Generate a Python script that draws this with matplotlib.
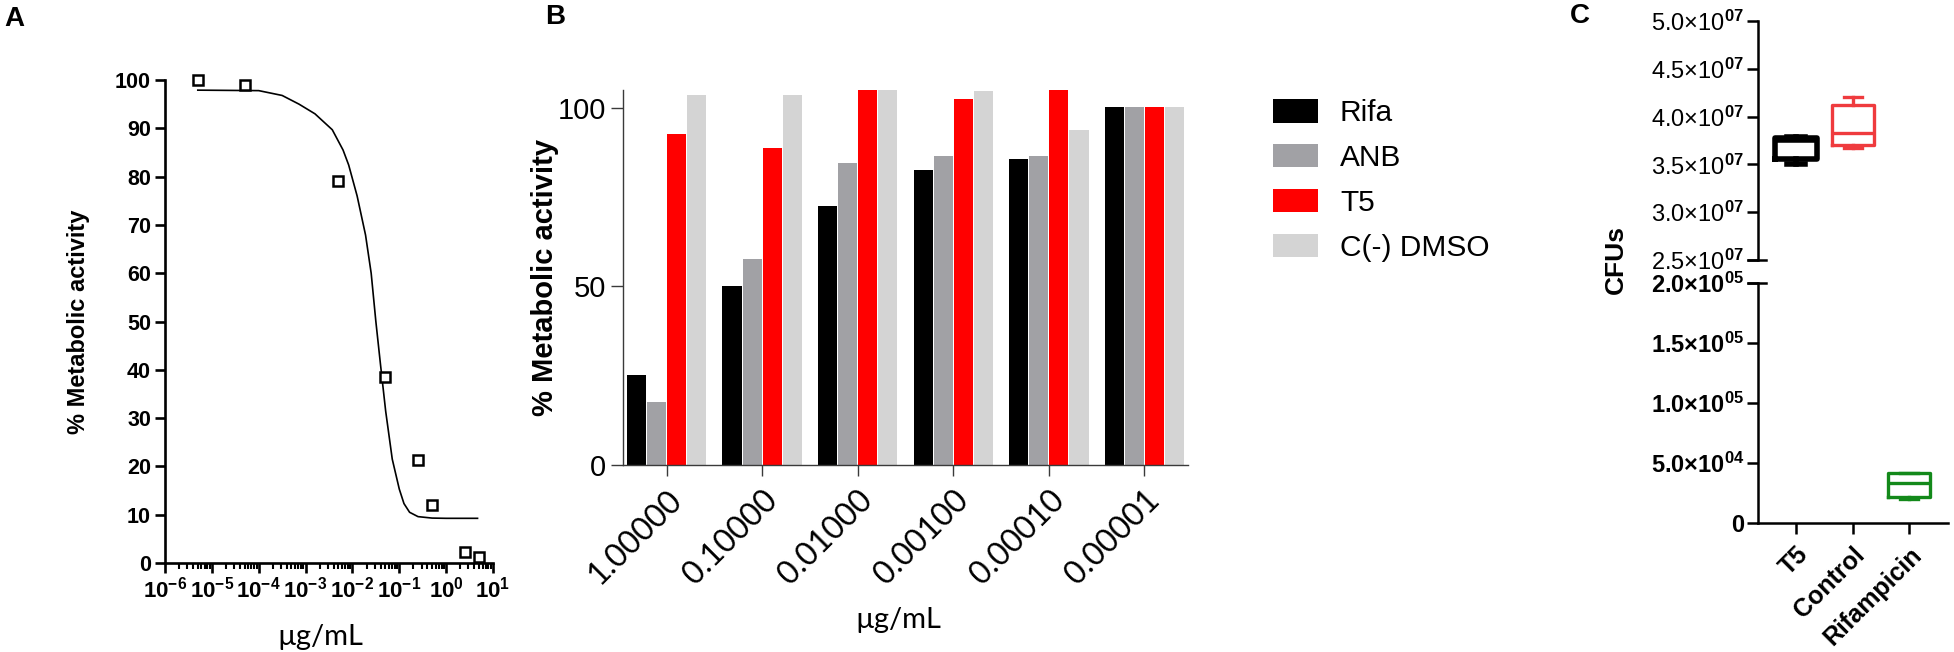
import matplotlib
import matplotlib.pyplot as plt
import numpy as np
from matplotlib.patches import Patch
from matplotlib.ticker import FixedLocator, LogLocator, NullFormatter

plt.switch_backend("agg")
plt.rcParams["font.family"] = ["Liberation Sans", "DejaVu Sans"]
plt.rcParams["mathtext.fontset"] = "custom"
plt.rcParams["mathtext.rm"] = "Liberation Sans"
plt.rcParams["mathtext.bf"] = "Liberation Sans:bold"
plt.rcParams["mathtext.it"] = "Liberation Sans:italic"
plt.rcParams["mathtext.default"] = "bf"

W, H = 1954, 652

# ---- panel A: dose response of T5 ----
A_CONC = [5e-6, 5e-5, 5e-3, 5e-2, 0.25, 0.5, 2.5, 5.0]
A_ACTIVITY = [100.0, 99.0, 79.0, 38.5, 21.3, 12.0, 2.3, 1.3]
# fitted curve (log10 of concentration, % activity)
A_FIT_LOGX = [-5.3, -4.0, -3.5, -3.14, -2.8, -2.43, -2.2, -2.08, -1.9, -1.72,
              -1.6, -1.5, -1.4, -1.29, -1.15, -1.0, -0.9, -0.78, -0.6, -0.3,
              0.0, 0.67]
A_FIT_Y = [97.9, 97.8, 96.8, 95.0, 93.0, 89.7, 85.5, 82.4, 76.0, 67.9,
           60.0, 50.0, 41.0, 31.4, 21.5, 15.3, 12.3, 10.5, 9.6, 9.3,
           9.25, 9.25]
A_XTICK_EXP = [-6, -5, -4, -3, -2, -1, 0, 1]
A_YTICKS = [0, 10, 20, 30, 40, 50, 60, 70, 80, 90, 100]

# ---- panel B: metabolic activity per dose ----
B_DOSES = ["1.00000", "0.10000", "0.01000", "0.00100", "0.00010", "0.00001"]
B_SERIES = ["Rifa", "ANB", "T5", "C(-) DMSO"]
B_RIFA = [25.3, 50.0, 72.5, 82.6, 85.7, 100.3]
B_ANB = [17.6, 57.7, 84.7, 86.6, 86.6, 100.3]
B_T5 = [92.6, 88.7, 105.0, 102.5, 105.0, 100.3]
B_DMSO = [103.6, 103.6, 105.0, 104.7, 93.7, 100.3]
B_COLORS = ["#000000", "#a1a1a5", "#ff0000", "#d4d4d4"]

# ---- panel C: CFU box plots ----
C_GROUPS = ["T5", "Control", "Rifampicin"]
C_MIN = [3.50e7, 3.67e7, 2.03e4]
C_Q1 = [3.553e7, 3.70e7, 2.17e4]
C_MED = [3.75e7, 3.825e7, 3.33e4]
C_Q3 = [3.775e7, 4.12e7, 4.17e4]
C_MAX = [3.79e7, 4.20e7, 4.20e4]
C_COLORS = ["#000000", "#ef3b3e", "#13891a"]
C_TOP_TICKS = [2.5e7, 3.0e7, 3.5e7, 4.0e7, 4.5e7, 5.0e7]
C_TOP_LABELS = ["2.5×10$^{07}$", "3.0×10$^{07}$", "3.5×10$^{07}$",
                "4.0×10$^{07}$", "4.5×10$^{07}$", "5.0×10$^{07}$"]
C_BOT_TICKS = [0, 5.0e4, 1.0e5, 1.5e5, 2.0e5]
C_BOT_LABELS = ["0", "5.0×10$^{04}$", "1.0×10$^{05}$", "1.5×10$^{05}$",
                "2.0×10$^{05}$"]


def rect(left, top, right, bottom):
    return [left / W, 1 - bottom / H, (right - left) / W, (bottom - top) / H]


def fpos(x, y):
    return x / W, 1 - y / H


fig = plt.figure(figsize=(W / 100, H / 100), dpi=100)

# ================= A =================
axA = fig.add_axes(rect(165, 80, 493, 563))
axA.set_xscale("log")
fit_x = [10 ** v for v in A_FIT_LOGX]
axA.plot(fit_x, A_FIT_Y, color="black", lw=1.2, clip_on=False)
axA.plot(A_CONC, A_ACTIVITY, ls="none", marker="s", ms=6.5, mew=1.8,
         mfc="white", mec="black", clip_on=False, zorder=3)
axA.set_xlim(1e-6, 10)
axA.set_ylim(0, 100)
axA.xaxis.set_major_locator(FixedLocator([10.0 ** e for e in A_XTICK_EXP]))
axA.set_xticklabels([r"$10^{%d}$" % e for e in A_XTICK_EXP])
axA.xaxis.set_minor_locator(LogLocator(base=10, subs=np.arange(2, 10), numticks=20))
axA.xaxis.set_minor_formatter(NullFormatter())
axA.set_yticks(A_YTICKS)
axA.set_yticklabels([str(v) for v in A_YTICKS], fontweight="bold")
for s in ["top", "right"]:
    axA.spines[s].set_visible(False)
for s in ["left", "bottom"]:
    axA.spines[s].set_linewidth(1.9)
axA.tick_params(axis="both", which="major", length=7, width=1.9, pad=3)
axA.tick_params(axis="y", labelsize=15.5)
axA.tick_params(axis="x", labelsize=16)
axA.tick_params(axis="x", which="minor", length=4, width=1.5)

fig.text(*fpos(79, 322), "% Metabolic activity", rotation=90, fontsize=17,
         fontweight="bold", ha="center", va="center")
fig.text(*fpos(320, 637), "µg/mL", fontsize=21, family=["Lato", "DejaVu Sans"],
         ha="center", va="center")

# ================= B =================
axB = fig.add_axes(rect(623, 90, 1188, 465))
xpos = np.arange(len(B_DOSES))
offsets = [-0.316, -0.105, 0.105, 0.316]
for vals, off, col, lab in zip([B_RIFA, B_ANB, B_T5, B_DMSO], offsets,
                               B_COLORS, B_SERIES):
    axB.bar(xpos + off, vals, width=0.2, color=col, label=lab)
axB.set_xlim(-0.456, len(B_DOSES) - 1 + 0.456)
axB.set_ylim(0, 105)
axB.set_yticks([0, 50, 100])
axB.set_xticks(xpos)
axB.set_xticklabels(B_DOSES, rotation=45, ha="right", rotation_mode="anchor",
                    family=["Lato", "DejaVu Sans"], fontsize=23)
for s in ["top", "right"]:
    axB.spines[s].set_visible(False)
for s in ["left", "bottom"]:
    axB.spines[s].set_linewidth(1.0)
    axB.spines[s].set_color("#3a3a3a")
axB.tick_params(axis="y", length=9, width=1.0, color="#3a3a3a", labelsize=21, pad=3)
axB.tick_params(axis="x", length=8, width=1.0, color="#3a3a3a", pad=6)

fig.text(*fpos(545, 277), "% Metabolic activity", rotation=90, fontsize=21,
         fontweight="bold", ha="center", va="center")
fig.text(*fpos(898, 620), "µg/mL", fontsize=21, family=["Lato", "DejaVu Sans"],
         ha="center", va="center")

handles = [Patch(facecolor=c, edgecolor="none") for c in B_COLORS]
fig.legend(handles, B_SERIES, loc="upper left", bbox_to_anchor=fpos(1273, 99),
           frameon=False, fontsize=21.5, handlelength=1.52, handleheight=0.84,
           handletextpad=0.72, labelspacing=0.56, borderpad=0,
           borderaxespad=0)

# ================= C =================
axCt = fig.add_axes(rect(1758, 21, 1948, 260))
axCb = fig.add_axes(rect(1758, 283, 1948, 523))
cpos = np.arange(len(C_GROUPS))
for ax in (axCt, axCb):
    for i in range(len(C_GROUPS)):
        col = C_COLORS[i]
        lw = 4.0 if i == 0 else 2.4
        stats = [dict(med=C_MED[i], q1=C_Q1[i], q3=C_Q3[i],
                      whislo=C_MIN[i], whishi=C_MAX[i], label=C_GROUPS[i])]
        ax.bxp(stats, positions=[cpos[i]], widths=0.74, capwidths=0.32,
               showfliers=False, manage_ticks=False,
               boxprops=dict(color=col, lw=lw),
               medianprops=dict(color=col, lw=lw),
               whiskerprops=dict(color=col, lw=lw),
               capprops=dict(color=col, lw=lw))
    ax.set_xlim(-0.667, 2.68)
    for s in ["top", "right"]:
        ax.spines[s].set_visible(False)
    for s in ["left", "bottom"]:
        ax.spines[s].set_linewidth(1.8)
    ax.tick_params(axis="y", length=8, width=1.8, labelsize=17, pad=2)

axCt.set_ylim(2.5e7, 5.0e7)
axCt.set_yticks(C_TOP_TICKS)
axCt.set_yticklabels(C_TOP_LABELS)
axCt.spines["bottom"].set_visible(False)
axCt.tick_params(axis="x", bottom=False, labelbottom=False)

axCb.set_ylim(0, 2.0e5)
axCb.set_yticks(C_BOT_TICKS)
axCb.set_yticklabels(C_BOT_LABELS)
axCb.set_xticks(cpos)
axCb.set_xticklabels(C_GROUPS, rotation=45, ha="right", rotation_mode="anchor",
                     fontsize=18, fontweight="bold")
axCb.tick_params(axis="x", length=8, width=1.8, pad=6)
for lab in axCb.get_yticklabels():
    lab.set_fontweight("bold")

# axis-break marks
axCt.plot([-0.055, 0.04], [0, 0], transform=axCt.transAxes, color="black",
          lw=1.8, clip_on=False)
axCb.plot([-0.055, 0.04], [1, 1], transform=axCb.transAxes, color="black",
          lw=1.8, clip_on=False)

fig.text(*fpos(1616, 260), "CFUs", rotation=90, fontsize=19,
         fontweight="bold", ha="center", va="center")

# panel letters
fig.text(*fpos(14, 19), "A", fontsize=20, fontweight="bold", ha="center", va="center")
fig.text(*fpos(555, 17), "B", fontsize=20, fontweight="bold", ha="center", va="center")
fig.text(*fpos(1580, 16), "C", fontsize=20, fontweight="bold", ha="center", va="center")

fig.savefig("out.png", dpi=100)
